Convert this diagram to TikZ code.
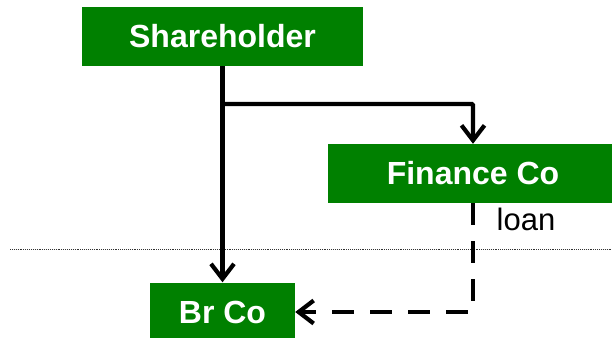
\documentclass[tikz,border=0pt]{standalone}
\usepackage{fontspec}
\setmainfont{Liberation Sans}
\usetikzlibrary{arrows.meta}
\definecolor{boxgreen}{RGB}{0,128,0}
\begin{document}
\begin{tikzpicture}[x=1pt,y=-1pt,
  entity/.style={fill=boxgreen, text=white, font=\fontsize{32}{37}\selectfont\bfseries,
    minimum height=59pt, inner sep=0pt, anchor=center},
  link/.style={line width=4.2pt, -{Straight Barb[length=15pt,width=23pt,line width=4.2pt]}},
  loanlink/.style={link, dash pattern=on 22pt off 16pt},
  divider/.style={line width=0.9pt, densely dotted, black!80}]
  \useasboundingbox (0,0) rectangle (612,337);
  % entities
  \node[entity, minimum width=281pt] (sh)  at (222.5,36.5) {Shareholder};
  \node[entity, minimum width=290pt] (fin) at (473,173.5) {Finance Co};
  \node[entity, minimum width=145pt] (br)  at (222.5,312) {Br Co};
  % border line
  \coordinate (dl) at (10,249);
  \coordinate (dr) at (612,249);
  \draw[divider] (dl) -- (dr);
  % ownership
  \coordinate (split) at (222.5,104);
  \draw[link] (sh.south) -- (br.north);
  \draw[link, rounded corners=1pt] (split) -| (fin.north);
  % loan
  \draw[loanlink] (fin.south) |- (br.east);
  \node[font=\fontsize{31}{36}\selectfont] (loan) at (526,219) {loan};
\end{tikzpicture}
\end{document}
